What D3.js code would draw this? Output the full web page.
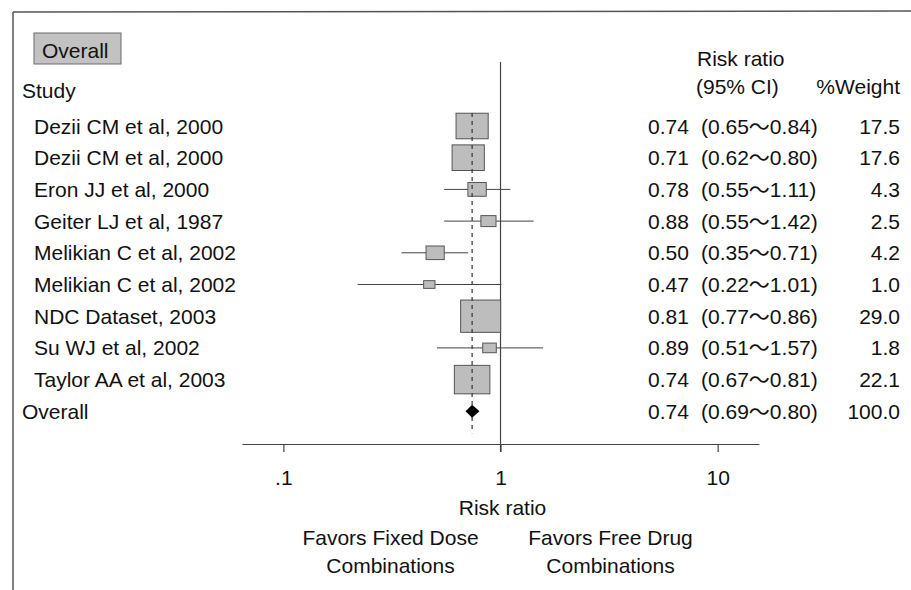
<!DOCTYPE html>
<html><head><meta charset="utf-8">
<script src="https://cdn.jsdelivr.net/npm/d3@7"></script>
<style>
body{margin:0;background:#fff}
svg text{font-family:"Liberation Sans",Arial,"Noto Sans CJK KR",sans-serif;font-size:21px;fill:#111}
</style>
</head><body><svg id="c" width="911" height="590"></svg>
<script>
// ---- data ----
const studies = ["Dezii CM et al, 2000","Dezii CM et al, 2000","Eron JJ et al, 2000","Geiter LJ et al, 1987",
  "Melikian C et al, 2002","Melikian C et al, 2002","NDC Dataset, 2003","Su WJ et al, 2002","Taylor AA et al, 2003"];
const riskRatio = [0.74,0.71,0.78,0.88,0.50,0.47,0.81,0.89,0.74];
const ciLow     = [0.65,0.62,0.55,0.55,0.35,0.22,0.77,0.51,0.67];
const ciHigh    = [0.84,0.80,1.11,1.42,0.71,1.01,0.86,1.57,0.81];
const weights   = [17.5,17.6,4.3,2.5,4.2,1.0,29.0,1.8,22.1];
const overallLabel = "Overall";
const overallRR = 0.74, overallLow = 0.69, overallHigh = 0.80, overallWeight = 100.0;
const tickValues = [0.1,1,10];
const tickLabels = [".1","1","10"];
const axisExtent = [0.0645,15.5];

const svg = d3.select("#c");
const x = d3.scaleLog().domain(axisExtent).range([242,759]);
const y = d3.scaleLinear().domain([0,9]).range([126,411.3]);
const bw = d3.scaleSqrt().domain([0,29]).range([4.8,40]);
const bh = d3.scaleSqrt().domain([0,29]).range([2.1,32.3]);
const f2 = d3.format(".2f"), f1 = d3.format(".1f");
const rows = studies.map((s,i)=>({s,i,rr:riskRatio[i],lo:ciLow[i],hi:ciHigh[i],w:weights[i]}));

// frame (open scan border)
svg.append("line").attr("x1",13).attr("x2",911).attr("y1",12).attr("y2",11).attr("stroke","#555").attr("stroke-width",1.5);
svg.append("line").attr("x1",13).attr("x2",13).attr("y1",12).attr("y2",590).attr("stroke","#555").attr("stroke-width",1.5);

// top-left Overall label box
svg.append("rect").attr("x",34).attr("y",33).attr("width",87).attr("height",31)
  .attr("fill","#c2c2c2").attr("stroke","#6a6a6a").attr("stroke-width",1);
svg.append("text").attr("x",42).attr("y",57.5).text(overallLabel);

// headers
svg.append("text").attr("x",22).attr("y",97.5).text("Study");
svg.append("text").attr("x",697).attr("y",65.5).text("Risk ratio");
svg.append("text").attr("x",696).attr("y",93.5).text("(95% CI)");
svg.append("text").attr("x",900).attr("y",93.5).attr("text-anchor","end").text("%Weight");

// null line
svg.append("line").attr("x1",x(1)).attr("x2",x(1)).attr("y1",62).attr("y2",452)
  .attr("stroke","#444").attr("stroke-width",1.2);

// axis
const ax = svg.append("g").attr("transform","translate(0,444)")
  .call(d3.axisBottom(x).tickValues(tickValues).tickFormat((d,i)=>tickLabels[i]).tickSize(8).tickSizeOuter(0));
ax.attr("font-family",null).attr("font-size",null);
ax.select(".domain").attr("stroke","#444").attr("stroke-width",1.2);
ax.selectAll(".tick line").attr("stroke","#444").attr("stroke-width",1.2);
ax.selectAll(".tick text").attr("y",41).attr("dy",0).attr("fill","#111");

// axis titles
svg.append("text").attr("x",x(1)+2).attr("y",514.5).attr("text-anchor","middle").text("Risk ratio");
svg.append("text").attr("x",x(1)-110).attr("y",544.5).attr("text-anchor","middle").text("Favors Fixed Dose");
svg.append("text").attr("x",x(1)-110).attr("y",572.5).attr("text-anchor","middle").text("Combinations");
svg.append("text").attr("x",x(1)+110).attr("y",544.5).attr("text-anchor","middle").text("Favors Free Drug");
svg.append("text").attr("x",x(1)+110).attr("y",572.5).attr("text-anchor","middle").text("Combinations");

// CI lines
svg.selectAll("line.ci").data(rows).join("line").attr("class","ci")
  .attr("x1",d=>x(d.lo)).attr("x2",d=>x(d.hi)).attr("y1",d=>y(d.i)).attr("y2",d=>y(d.i))
  .attr("stroke","#444").attr("stroke-width",1);
// boxes
svg.selectAll("rect.box").data(rows).join("rect").attr("class","box")
  .attr("x",d=>x(d.rr)-bw(d.w)/2).attr("y",d=>y(d.i)-bh(d.w)/2)
  .attr("width",d=>bw(d.w)).attr("height",d=>bh(d.w))
  .attr("fill","#bdbdbd").attr("stroke","#555").attr("stroke-width",1);
// overall dashed line
svg.append("line").attr("x1",x(overallRR)).attr("x2",x(overallRR)).attr("y1",y(0)-13).attr("y2",y(9)+22)
  .attr("stroke","#333").attr("stroke-width",1.2).attr("stroke-dasharray","4,4");
// diamond
const yo = y(9)+31.7*0;
const yOverall = 411.3;
svg.append("path").attr("d",`M${x(overallLow)},${yOverall} L${x(overallRR)},${yOverall-6.5} L${x(overallHigh)},${yOverall} L${x(overallRR)},${yOverall+6.5} Z`)
  .attr("fill","#000");

// labels
const yRow = i => 126 + i*31.7;
svg.selectAll("text.lab").data(rows).join("text").attr("class","lab")
  .attr("x",34).attr("y",d=>yRow(d.i)+7.5).text(d=>d.s);
svg.append("text").attr("x",22).attr("y",yOverall+7.5).text(overallLabel);

// right columns
const all = rows.concat([{i:9,rr:overallRR,lo:overallLow,hi:overallHigh,w:overallWeight}]);
svg.selectAll("text.rr").data(all).join("text").attr("class","rr")
  .attr("x",648).attr("y",d=>yRow(d.i)+7.5).text(d=>f2(d.rr));
svg.selectAll("text.ci").data(all).join("text").attr("class","citx")
  .attr("x",701).attr("y",d=>yRow(d.i)+7.5).text(d=>`(${f2(d.lo)}\uFF5E${f2(d.hi)})`);
svg.selectAll("text.wt").data(all).join("text").attr("class","wt")
  .attr("x",900).attr("y",d=>yRow(d.i)+7.5).attr("text-anchor","end").text(d=>f1(d.w));
</script>
</body></html>
